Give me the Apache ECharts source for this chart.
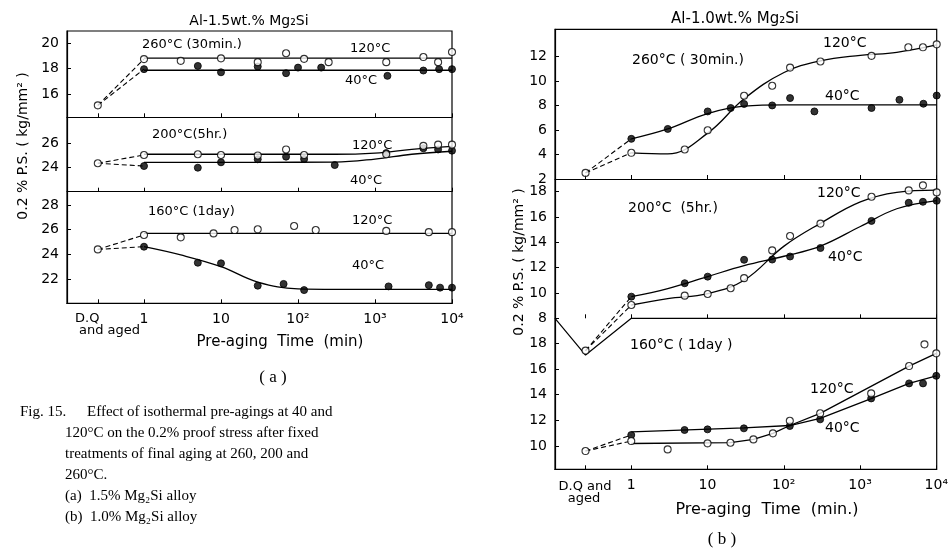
<!DOCTYPE html>
<html>
<head>
<meta charset="utf-8">
<script src="https://cdn.jsdelivr.net/npm/echarts@6/dist/echarts.min.js"></script>
<style>
  html, body { margin: 0; padding: 0; background: #fff; }
  #chart { width: 951px; height: 555px; }
</style>
</head>
<body>
<div id="chart"></div>
<script>
// x axis: pre-aging time in minutes on a log scale, D.Q sits left of 1 min
const tickPos = [0, 1, 2, 3, 4];
const tickLabels = ["1", "10", "10²", "10³", "10⁴"];
const DQ_POS = -0.6;

// ---- (a) Al-1.5wt.% Mg2Si ----
// 260°C (30 min)
const a1_dq = 15.1;
const a1_oT = [1, 3, 10, 30, 70, 120, 250, 1400, 4250, 6600, 10000];
const a1_oV = [18.74, 18.6, 18.8, 18.5, 19.2, 18.76, 18.5, 18.5, 18.9, 18.5, 19.3];
const a1_cT = [1, 5, 10, 30, 70, 100, 200, 1450, 4250, 6800, 10000];
const a1_cV = [17.95, 18.2, 17.7, 18.15, 17.63, 18.07, 18.07, 17.42, 17.84, 17.95, 17.95];
const a1_oLineT = [1, 10000];
const a1_oLineV = [18.82, 18.82];
const a1_cLineT = [1, 10000];
const a1_cLineV = [17.86, 17.86];

// 200°C (5 hr)
const a2_dq = 24.35;
const a2_oT = [1, 5, 10, 30, 70, 120, 1400, 4250, 6600, 10000];
const a2_oV = [25.04, 25.1, 25.04, 25.0, 25.5, 25.04, 25.1, 25.8, 25.9, 25.9];
const a2_cT = [1, 5, 10, 30, 70, 120, 300, 1400, 4250, 6600, 10000];
const a2_cV = [24.12, 23.98, 24.43, 24.68, 24.9, 24.7, 24.2, 25.2, 25.6, 25.5, 25.4];
const a2_oLineT = [1, 30, 300, 1000, 3000, 10000];
const a2_oLineV = [25.1, 25.1, 25.1, 25.2, 25.5, 25.75];
const a2_cLineT = [1, 30, 300, 1000, 3000, 10000];
const a2_cLineV = [24.43, 24.43, 24.45, 24.7, 25.1, 25.35];

// 160°C (1 day)
const a3_dq = 24.4;
const a3_oT = [1, 3, 8, 15, 30, 89, 170, 1400, 5000, 10000];
const a3_oV = [25.57, 25.38, 25.7, 25.97, 26.03, 26.3, 25.97, 25.9, 25.8, 25.8];
const a3_cT = [1, 5, 10, 30, 65, 120, 1500, 5000, 7000, 10000];
const a3_cV = [24.62, 23.32, 23.27, 21.46, 21.6, 21.1, 21.4, 21.5, 21.3, 21.3];
const a3_oLineT = [1, 10000];
const a3_oLineV = [25.7, 25.7];
const a3_cLineT = [1, 3, 10, 30, 100, 300, 1000, 10000];
const a3_cLineV = [24.62, 23.95, 23.0, 21.75, 21.2, 21.16, 21.16, 21.16];

// ---- (b) Al-1.0wt.% Mg2Si ----
// 260°C (30 min)
const b1_dq = 2.5;
const b1_oT = [1, 5, 10, 30, 70, 120, 300, 1400, 4250, 6600, 10000];
const b1_oV = [4.14, 4.41, 5.98, 8.8, 9.62, 11.1, 11.6, 12.06, 12.76, 12.76, 13.0];
const b1_cT = [1, 3, 10, 20, 30, 70, 120, 250, 1400, 3250, 6700, 10000];
const b1_cV = [5.28, 6.09, 7.52, 7.8, 8.13, 8.01, 8.61, 7.52, 7.8, 8.47, 8.15, 8.82];
const b1_oLineT = [1, 3, 10, 30, 100, 300, 1000, 3000, 10000];
const b1_oLineV = [4.14, 4.05, 5.75, 8.55, 10.7, 11.65, 12.1, 12.35, 12.95];
const b1_cLineT = [1, 3, 10, 30, 100, 1000, 10000];
const b1_cLineV = [5.28, 6.09, 7.35, 7.95, 8.05, 8.05, 8.05];

// 200°C (5 hr)
const b2_dq = 5.45;
const b2_oT = [1, 5, 10, 20, 30, 70, 120, 300, 1400, 4300, 6600, 10000];
const b2_oV = [9.05, 9.79, 9.92, 10.37, 11.17, 13.36, 14.5, 15.48, 17.6, 18.1, 18.5, 17.94];
const b2_cT = [1, 5, 10, 30, 70, 120, 300, 1400, 4300, 6600, 10000];
const b2_cV = [9.71, 10.77, 11.29, 12.62, 12.64, 12.88, 13.55, 15.69, 17.12, 17.2, 17.28];
const b2_oLineT = [1, 3, 10, 30, 100, 300, 1000, 3000, 10000];
const b2_oLineV = [9.05, 9.55, 9.95, 11.0, 13.7, 15.5, 17.2, 17.95, 18.12];
const b2_cLineT = [1, 3, 10, 30, 100, 300, 1000, 3000, 10000];
const b2_cLineV = [9.71, 10.35, 11.3, 12.15, 12.9, 13.7, 15.25, 16.65, 17.3];
// lower boundary of the 200°C box, dipping round the D.Q point
const b2_sepX = [-1, DQ_POS, 0, 4];
const b2_sepV = [8, 5.1, 8, 8];

// 160°C (1 day)
const b3_dq = 9.61;
const b3_oT = [1, 3, 10, 20, 40, 72, 120, 300, 1400, 4400, 7000, 10000];
const b3_oV = [10.39, 9.74, 10.21, 10.26, 10.52, 10.99, 11.97, 12.55, 14.1, 16.23, 17.92, 17.22];
const b3_cT = [1, 5, 10, 30, 120, 300, 1400, 4400, 6700, 10000];
const b3_cV = [10.86, 11.25, 11.3, 11.38, 11.56, 12.08, 13.71, 14.88, 14.88, 15.47];
const b3_oLineT = [1, 20, 40, 72, 120, 300, 4400, 10000];
const b3_oLineV = [10.2, 10.26, 10.52, 10.99, 11.6, 12.55, 16.23, 17.22];
const b3_cLineT = [1, 30, 120, 300, 1400, 4400, 10000];
const b3_cLineV = [11.1, 11.42, 11.6, 12.15, 13.7, 14.88, 15.47];

const lx = (t) => Math.log10(t);
const pts = (ts, vs) => ts.map((t, i) => [lx(t), vs[i]]);

const chart = echarts.init(document.getElementById("chart"));

const FONT = "DejaVu Sans";
const SERIF = "Liberation Serif, DejaVu Serif, serif";

// sub-plot boxes: [left, top, width, height]
const boxes = [
  [67, 31, 385, 86.3],
  [67, 117.3, 385, 74.4],
  [67, 191.7, 385, 111.6],
  [555, 29.3, 381.7, 149.7],
  [555, 179, 381.7, 139.3],
  [555, 318.3, 381.7, 151],
];
const yRanges = [
  [14.16, 20.95, [16, 18, 20]],
  [21.98, 28.18, [24, 26]],
  [20.03, 29.08, [22, 24, 26, 28]],
  [2, 14.23, [2, 4, 6, 8, 10, 12]],
  [8, 19.0, [8, 10, 12, 14, 16, 18]],
  [8.19, 19.95, [10, 12, 14, 16, 18]],
];

const grid = boxes.map((b) => ({
  left: b[0], top: b[1], width: b[2], height: b[3], show: false,
}));
// outer frames of the two figures
grid.push({ left: 67, top: 31, width: 385, height: 272.3, show: true, borderColor: "#000", borderWidth: 1.2 });
grid.push({ left: 555, top: 29.3, width: 381.7, height: 440, show: true, borderColor: "#000", borderWidth: 1.2 });

const xAxis = boxes.map((b, i) => ({
  type: "value",
  gridIndex: i,
  min: -1,
  max: 4,
  axisLine: { show: i !== 4, onZero: false, lineStyle: { color: "#000", width: 1.2 } },
  axisTick: {
    show: true, inside: true, length: 4,
    customValues: [DQ_POS].concat(tickPos),
    lineStyle: { color: "#000" },
  },
  axisLabel: {
    show: i === 2 || i === 5,
    customValues: tickPos,
    formatter: (v) => tickLabels[tickPos.indexOf(Math.round(v))] || "",
    color: "#000", fontFamily: FONT, fontSize: 14, margin: 9,
  },
  splitLine: { show: false },
}));
xAxis.push({ type: "value", gridIndex: 6, show: false });
xAxis.push({ type: "value", gridIndex: 7, show: false });

const yAxis = yRanges.map((r, i) => ({
  type: "value",
  gridIndex: i,
  min: r[0],
  max: r[1],
  axisLine: { show: true, onZero: false, lineStyle: { color: "#000", width: 1.2 } },
  axisTick: { show: true, inside: true, length: 4, customValues: r[2], lineStyle: { color: "#000" } },
  axisLabel: { customValues: r[2], color: "#000", fontFamily: FONT, fontSize: 14, margin: 8 },
  splitLine: { show: false },
}));
yAxis.push({ type: "value", gridIndex: 6, show: false });
yAxis.push({ type: "value", gridIndex: 7, show: false });

function curve(g, data, smooth) {
  return {
    type: "line", xAxisIndex: g, yAxisIndex: g, data: data,
    showSymbol: false, smooth: smooth ? 0.4 : false,
    clip: false, silent: true, z: 2,
    lineStyle: { color: "#000", width: 1.3 },
  };
}
function dashed(g, data) {
  return {
    type: "line", xAxisIndex: g, yAxisIndex: g, data: data,
    showSymbol: false, clip: false, silent: true, z: 2,
    lineStyle: { color: "#000", width: 1.1, type: [5, 3] },
  };
}
function dots(g, data, open) {
  return {
    type: "scatter", xAxisIndex: g, yAxisIndex: g, data: data,
    symbol: "circle", symbolSize: 7, clip: false, z: 4,
    itemStyle: open
      ? { color: "#fff", borderColor: "#000", borderWidth: 1.1 }
      : { color: "#000", borderColor: "#000", borderWidth: 1 },
  };
}
function panel(g, dq, oT, oV, cT, cV, oLT, oLV, cLT, cLV, smoothO, smoothC) {
  return [
    curve(g, pts(oLT, oLV), smoothO),
    curve(g, pts(cLT, cLV), smoothC),
    dashed(g, [[DQ_POS, dq], [0, oV[0]]]),
    dashed(g, [[DQ_POS, dq], [0, cV[0]]]),
    dots(g, pts(cT, cV), false),
    dots(g, [[DQ_POS, dq]].concat(pts(oT, oV)), true),
  ];
}

const series = [].concat(
  panel(0, a1_dq, a1_oT, a1_oV, a1_cT, a1_cV, a1_oLineT, a1_oLineV, a1_cLineT, a1_cLineV, false, false),
  panel(1, a2_dq, a2_oT, a2_oV, a2_cT, a2_cV, a2_oLineT, a2_oLineV, a2_cLineT, a2_cLineV, true, true),
  panel(2, a3_dq, a3_oT, a3_oV, a3_cT, a3_cV, a3_oLineT, a3_oLineV, a3_cLineT, a3_cLineV, false, true),
  panel(3, b1_dq, b1_oT, b1_oV, b1_cT, b1_cV, b1_oLineT, b1_oLineV, b1_cLineT, b1_cLineV, true, true),
  panel(4, b2_dq, b2_oT, b2_oV, b2_cT, b2_cV, b2_oLineT, b2_oLineV, b2_cLineT, b2_cLineV, true, true),
  panel(5, b3_dq, b3_oT, b3_oV, b3_cT, b3_cV, b3_oLineT, b3_oLineV, b3_cLineT, b3_cLineV, false, false),
  [{
    type: "line", xAxisIndex: 4, yAxisIndex: 4, clip: false, silent: true, showSymbol: false,
    data: b2_sepX.map((x, i) => [x, b2_sepV[i]]),
    lineStyle: { color: "#000", width: 1.2 },
  }]
);

function txt(x, y, text, size, opts) {
  const o = opts || {};
  return {
    type: "text", x: x, y: y, rotation: o.rot || 0, silent: true,
    style: {
      text: text, fill: "#000",
      font: (o.weight || "normal") + " " + size + "px " + (o.family || FONT),
      textAlign: o.align || "left", textVerticalAlign: "middle",
    },
  };
}

const graphic = [
  // (a)
  txt(249, 21, "Al-1.5wt.% Mg₂Si", 14, { align: "center" }),
  txt(142, 45, "260°C (30min.)", 13),
  txt(350, 49, "120°C", 13),
  txt(345, 81, "40°C", 13),
  txt(152, 135, "200°C(5hr.)", 13),
  txt(352, 146, "120°C", 13),
  txt(350, 181, "40°C", 13),
  txt(148, 212, "160°C (1day)", 13),
  txt(352, 221, "120°C", 13),
  txt(352, 266, "40°C", 13),
  txt(23, 146, "0.2 % P.S. ( kg/mm² )", 14, { align: "center", rot: Math.PI / 2 }),
  txt(75, 319, "D.Q", 13),
  txt(79, 331, "and aged", 13),
  txt(280, 342, "Pre-aging  Time  (min)", 15, { align: "center" }),
  txt(273, 378, "( a )", 17, { align: "center", family: SERIF }),
  // (b)
  txt(735, 19, "Al-1.0wt.% Mg₂Si", 15, { align: "center" }),
  txt(632, 60, "260°C ( 30min.)", 14),
  txt(823, 43, "120°C", 14),
  txt(825, 96, "40°C", 14),
  txt(628, 208, "200°C  (5hr.)", 14),
  txt(817, 193, "120°C", 14),
  txt(828, 257, "40°C", 14),
  txt(630, 345, "160°C ( 1day )", 14),
  txt(810, 389, "120°C", 14),
  txt(825, 428, "40°C", 14),
  txt(519, 262, "0.2 % P.S. ( kg/mm² )", 14, { align: "center", rot: Math.PI / 2 }),
  txt(585, 487, "D.Q and", 13, { align: "center" }),
  txt(584, 499, "aged", 13, { align: "center" }),
  txt(767, 510, "Pre-aging  Time  (min.)", 16, { align: "center" }),
  txt(722, 540, "( b )", 17, { align: "center", family: SERIF }),
  // caption
  txt(20, 412, "Fig. 15.", 15, { family: SERIF }),
  txt(87, 412, "Effect of isothermal pre-agings at 40 and", 15, { family: SERIF }),
  txt(65, 433, "120°C on the 0.2% proof stress after fixed", 15, { family: SERIF }),
  txt(65, 454, "treatments of final aging at 260, 200 and", 15, { family: SERIF }),
  txt(65, 475, "260°C.", 15, { family: SERIF }),
  txt(65, 496, "(a)  1.5% Mg₂Si alloy", 15, { family: SERIF }),
  txt(65, 517, "(b)  1.0% Mg₂Si alloy", 15, { family: SERIF }),
];

chart.setOption({
  animation: false,
  backgroundColor: "#fff",
  grid: grid,
  xAxis: xAxis,
  yAxis: yAxis,
  series: series,
  graphic: graphic,
});
</script>
</body>
</html>
